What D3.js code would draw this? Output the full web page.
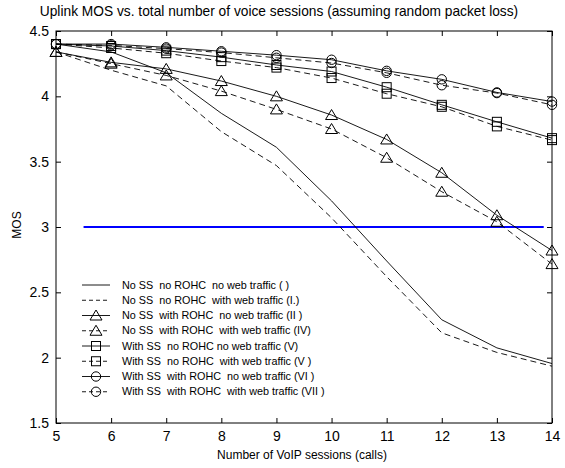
<!DOCTYPE html>
<html><head><meta charset="utf-8">
<script src="https://cdn.jsdelivr.net/npm/d3@7"></script>
<style>body{margin:0;background:#fff}text{font-family:"Liberation Sans",Arial,sans-serif;fill:#000}</style>
</head><body><svg id="c" width="565" height="468"></svg>
<script>
const sessions = [5,6,7,8,9,10,11,12,13,14];
const mosI    = [4.40,4.34,4.18,3.87,3.61,3.20,2.74,2.29,2.075,1.955];
const mosII   = [4.34,4.20,4.08,3.73,3.47,3.07,2.62,2.19,2.04,1.935];
const mosIII  = [4.34,4.26,4.21,4.117,4.00,3.857,3.67,3.415,3.09,2.82];
const mosIV   = [4.34,4.25,4.16,4.04,3.90,3.75,3.53,3.27,3.04,2.716];
const mosV    = [4.40,4.385,4.35,4.30,4.24,4.19,4.07,3.935,3.805,3.68];
const mosVI   = [4.40,4.37,4.33,4.27,4.22,4.14,4.02,3.92,3.77,3.665];
const mosVII  = [4.40,4.40,4.375,4.345,4.315,4.28,4.195,4.13,4.03,3.96];
const mosVIII = [4.40,4.39,4.365,4.335,4.295,4.255,4.18,4.085,4.025,3.935];
const seriesNames = [
 "No SS  no ROHC  no web traffic ( )",
 "No SS  no ROHC  with web traffic (I.)",
 "No SS  with ROHC  no web traffic (II )",
 "No SS  with ROHC  with web traffic (IV)",
 "With SS  no ROHC no web traffic (V)",
 "With SS  no ROHC  with web traffic (V )",
 "With SS  with ROHC  no web traffic (VI )",
 "With SS  with ROHC  with web traffic (VII )"
];
const seriesValues = [mosI,mosII,mosIII,mosIV,mosV,mosVI,mosVII,mosVIII];
const seriesDash = [false,true,false,true,false,true,false,true];
const seriesMarker = [null,null,"tri","tri","sq","sq","ci","ci"];
const thresholdX = [5.5, 13.85];
const thresholdY = 3;
const xTicks = [5,6,7,8,9,10,11,12,13,14];
const yTicks = [1.5,2,2.5,3,3.5,4,4.5];
const title = "Uplink MOS vs. total number of voice sessions (assuming random packet loss)";
const xLabel = "Number of VoIP sessions (calls)";
const yLabel = "MOS";

const L=56,R=552,T=31,B=423;
const svg=d3.select("#c");
const x=d3.scaleLinear().domain([5,14]).range([L,R]);
const y=d3.scaleLinear().domain([1.5,4.5]).range([B,T]);

svg.append("rect").attr("x",L).attr("y",T).attr("width",R-L).attr("height",B-T).attr("fill","none").attr("stroke","#000").attr("stroke-width",1);

const tl=5;
const gx=svg.append("g").attr("transform",`translate(0,${B})`).call(d3.axisBottom(x).tickValues(xTicks).tickSize(-tl).tickPadding(8).tickFormat(d3.format("d")));
const gxt=svg.append("g").attr("transform",`translate(0,${T})`).call(d3.axisTop(x).tickValues(xTicks).tickSize(-tl).tickFormat(""));
const gy=svg.append("g").attr("transform",`translate(${L},0)`).call(d3.axisLeft(y).tickValues(yTicks).tickSize(-tl).tickPadding(7).tickFormat(d=>String(d)));
const gyr=svg.append("g").attr("transform",`translate(${R},0)`).call(d3.axisRight(y).tickValues(yTicks).tickSize(-tl).tickFormat(""));
[gx,gxt,gy,gyr].forEach(g=>{g.select(".domain").remove();g.selectAll("line").attr("stroke","#000");g.selectAll("text").attr("font-size",14).attr("font-family","Liberation Sans, Arial");});

svg.append("line").attr("x1",x(thresholdX[0])).attr("x2",x(thresholdX[1])).attr("y1",y(thresholdY)).attr("y2",y(thresholdY)).attr("stroke","#0000ff").attr("stroke-width",2);

function marker(g,type,cx,cy){
  if(type==="tri"){
    g.append("path").attr("d",`M${cx},${cy-5.5}L${cx+6},${cy+4.5}L${cx-6},${cy+4.5}Z`).attr("fill","none").attr("stroke","#000").attr("stroke-width",1);
  } else if(type==="sq"){
    g.append("rect").attr("x",cx-4.5).attr("y",cy-4.5).attr("width",9).attr("height",9).attr("fill","none").attr("stroke","#000").attr("stroke-width",1);
  } else if(type==="ci"){
    g.append("circle").attr("cx",cx).attr("cy",cy).attr("r",4.7).attr("fill","none").attr("stroke","#000").attr("stroke-width",1);
  }
}
const line=d3.line().x((d,i)=>x(sessions[i])).y(d=>y(d));
seriesValues.forEach((vals,k)=>{
  const g=svg.append("g");
  g.append("path").attr("d",line(vals)).attr("fill","none").attr("stroke","#000").attr("stroke-width",0.9).attr("stroke-dasharray",seriesDash[k]?"6,4":null);
  if(seriesMarker[k]) vals.forEach((v,i)=>marker(g,seriesMarker[k],x(sessions[i]),y(v)));
});

const lg=svg.append("g");
seriesNames.forEach((n,k)=>{
  const ly=285+k*15.25;
  lg.append("line").attr("x1",82).attr("x2",110).attr("y1",ly).attr("y2",ly).attr("stroke","#000").attr("stroke-width",0.9).attr("stroke-dasharray",seriesDash[k]?"4,3":null);
  if(seriesMarker[k]) marker(lg,seriesMarker[k],96,ly);
  lg.append("text").attr("x",122).attr("y",ly+3.7).attr("font-size",10.8).style("white-space","pre").text(n);
});

svg.append("text").attr("x",279).attr("y",16).attr("text-anchor","middle").attr("font-size",13.75).text(title);
svg.append("text").attr("x",302).attr("y",459).attr("text-anchor","middle").attr("font-size",12).text(xLabel);
svg.append("text").attr("transform",`translate(21,225) rotate(-90)`).attr("text-anchor","middle").attr("font-size",12).text(yLabel);
</script></body></html>
